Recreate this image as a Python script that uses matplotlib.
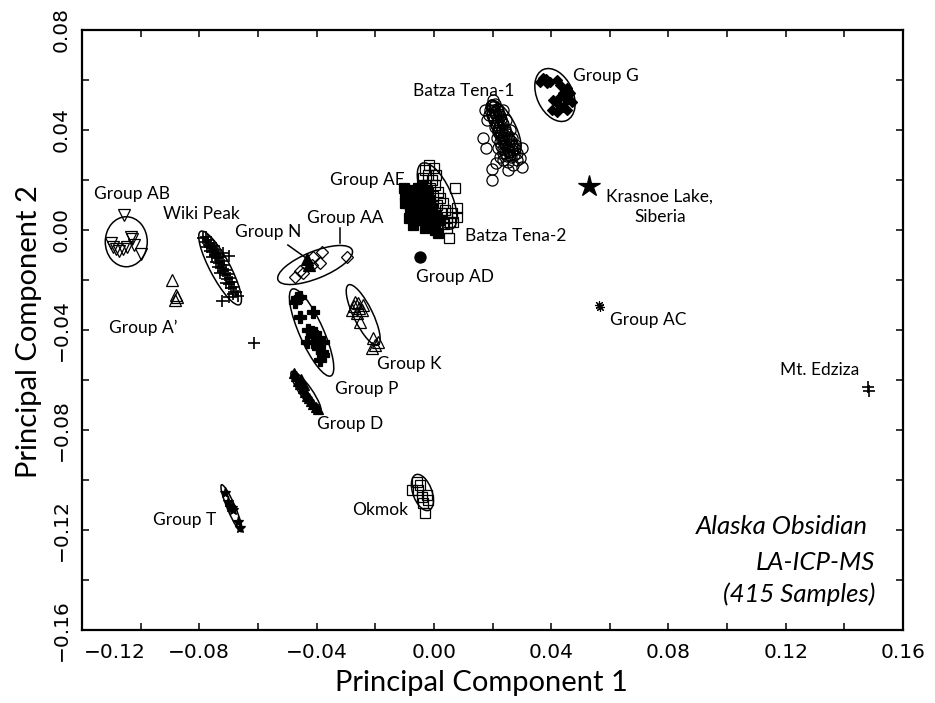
import numpy as np
import matplotlib
matplotlib.use('Agg')
import matplotlib.pyplot as plt
from matplotlib.patches import Ellipse
import matplotlib.transforms as mtransforms

# ---- data (PC1, PC2) ----
# Group AB (open down triangles)
ab_x = [-0.1056, -0.1034, -0.1030, -0.1023, -0.1102, -0.1094, -0.1084, -0.1074, -0.1060, -0.1048, -0.1000]
ab_y = [0.0060, -0.0027, -0.0036, -0.0060, -0.0051, -0.0067, -0.0076, -0.0083, -0.0076, -0.0068, -0.0096]

# Group A' (open up triangles)
ap_x = [-0.0894, -0.0879, -0.0883, -0.0877]
ap_y = [-0.0200, -0.0260, -0.0280, -0.0267]

# Wiki Peak (plus)
wiki_x = [-0.0787, -0.0777, -0.0781, -0.0770, -0.0767, -0.0760, -0.0774, -0.0757, -0.0750, -0.0764,
          -0.0753, -0.0743, -0.0746, -0.0736, -0.0757, -0.0740, -0.0729, -0.0743, -0.0733, -0.0723,
          -0.0736, -0.0726, -0.0716, -0.0719, -0.0709, -0.0729, -0.0712, -0.0702, -0.0706, -0.0695,
          -0.0709, -0.0699, -0.0689, -0.0692, -0.0682, -0.0675, -0.0685, -0.0668, -0.0723, -0.0699,
          -0.0719, -0.0699, -0.0613]
wiki_y = [-0.0032, -0.0028, -0.0048, -0.0040, -0.0060, -0.0052, -0.0068, -0.0072, -0.0064, -0.0084,
          -0.0088, -0.0080, -0.0100, -0.0096, -0.0108, -0.0112, -0.0108, -0.0128, -0.0132, -0.0124,
          -0.0148, -0.0152, -0.0140, -0.0164, -0.0160, -0.0172, -0.0180, -0.0176, -0.0196, -0.0192,
          -0.0212, -0.0216, -0.0208, -0.0232, -0.0228, -0.0248, -0.0256, -0.0264, -0.0284, -0.0268,
          -0.0092, -0.0104, -0.0452]

# Batza Tena-1 (open circles)
bt1_x = [0.0198, 0.0208, 0.0191, 0.0205, 0.0215, 0.0198, 0.0212, 0.0222, 0.0205, 0.0219,
         0.0229, 0.0212, 0.0225, 0.0236, 0.0219, 0.0232, 0.0242, 0.0225, 0.0239, 0.0249,
         0.0232, 0.0246, 0.0256, 0.0242, 0.0256, 0.0266, 0.0253, 0.0266, 0.0277, 0.0260,
         0.0273, 0.0283, 0.0188, 0.0202, 0.0236, 0.0246, 0.0260, 0.0266, 0.0215, 0.0229,
         0.0242, 0.0167, 0.0178, 0.0174, 0.0181, 0.0198, 0.0198, 0.0225, 0.0236, 0.0253,
         0.0253, 0.0270, 0.0294, 0.0300, 0.0300, 0.0277, 0.0219, 0.0236, 0.0283, 0.0212,
         0.0201, 0.0210, 0.0203, 0.0214, 0.0222, 0.0210, 0.0228, 0.0218, 0.0236, 0.0224,
         0.0240, 0.0249, 0.0236, 0.0256, 0.0263, 0.0250, 0.0218, 0.0226, 0.0233, 0.0194,
         0.0244, 0.0252, 0.0262, 0.0270]
bt1_y = [0.0500, 0.0504, 0.0480, 0.0480, 0.0484, 0.0460, 0.0460, 0.0464, 0.0440, 0.0440,
         0.0444, 0.0420, 0.0420, 0.0424, 0.0400, 0.0400, 0.0404, 0.0380, 0.0380, 0.0384,
         0.0360, 0.0360, 0.0364, 0.0340, 0.0340, 0.0344, 0.0320, 0.0320, 0.0324, 0.0300,
         0.0300, 0.0308, 0.0460, 0.0520, 0.0480, 0.0440, 0.0400, 0.0368, 0.0368, 0.0336,
         0.0308, 0.0368, 0.0328, 0.0480, 0.0440, 0.0244, 0.0200, 0.0292, 0.0308, 0.0272,
         0.0240, 0.0260, 0.0288, 0.0252, 0.0328, 0.0340, 0.0328, 0.0280, 0.0280, 0.0268,
         0.0490, 0.0470, 0.0450, 0.0430, 0.0410, 0.0410, 0.0390, 0.0390, 0.0370, 0.0350,
         0.0350, 0.0330, 0.0325, 0.0310, 0.0290, 0.0295, 0.0475, 0.0455, 0.0432, 0.0495,
         0.0395, 0.0372, 0.0355, 0.0335]

# Group G (filled diamonds)
g_x = [0.0372, 0.0386, 0.0362, 0.0420, 0.0430, 0.0454, 0.0440, 0.0464, 0.0430, 0.0454,
       0.0471, 0.0420, 0.0440, 0.0403, 0.0420, 0.0454, 0.0406, 0.0382, 0.0396]
g_y = [0.0608, 0.0588, 0.0592, 0.0600, 0.0580, 0.0568, 0.0548, 0.0548, 0.0532, 0.0520,
       0.0512, 0.0508, 0.0492, 0.0480, 0.0472, 0.0480, 0.0520, 0.0604, 0.0592]

# Group AE (filled squares)
ae_x = [-0.0099, -0.0088, -0.0075, -0.0081, -0.0064, -0.0054, -0.0047, -0.0041, -0.0030, -0.0064,
        -0.0047, -0.0020, -0.0013, -0.0030, 0.0004, 0.0014, -0.0071, -0.0054, -0.0041, -0.0023,
        -0.0013, -0.0006, 0.0007, 0.0021, -0.0102, -0.0085, -0.0003, -0.0027, -0.0099, -0.0078]
ae_y = [0.0140, 0.0108, 0.0160, 0.0080, 0.0128, 0.0100, 0.0140, 0.0072, 0.0120, 0.0060,
        0.0040, 0.0060, 0.0032, 0.0008, 0.0000, -0.0012, 0.0020, 0.0168, 0.0180, 0.0160,
        0.0120, 0.0088, 0.0060, 0.0040, 0.0168, 0.0048, 0.0016, 0.0092, 0.0108, 0.0136]

# Batza Tena-2 (open squares)
bt2_x = [-0.0030, -0.0020, -0.0006, -0.0027, -0.0013, 0.0004, 0.0014, -0.0003, 0.0021, 0.0031,
         0.0011, 0.0038, 0.0024, 0.0045, 0.0055, 0.0034, 0.0072, 0.0079, 0.0079, 0.0065,
         0.0051, 0.0045, 0.0062, -0.0037, 0.0007, -0.0017, 0.0000]
bt2_y = [0.0240, 0.0220, 0.0200, 0.0180, 0.0168, 0.0180, 0.0152, 0.0136, 0.0128, 0.0108,
         0.0100, 0.0080, 0.0068, 0.0052, 0.0032, 0.0024, 0.0168, 0.0088, 0.0052, 0.0032,
         -0.0032, 0.0008, 0.0068, 0.0208, 0.0220, 0.0260, 0.0248]

# Group AD (filled circle)
ad_x = [-0.0047]
ad_y = [-0.0107]

# Group AA (open diamonds) and Group N (filled triangles)
aa_x = [-0.0383, -0.0411, -0.0388, -0.0417, -0.0445, -0.0474, -0.0297, -0.0457]
aa_y = [-0.0087, -0.0107, -0.0133, -0.0140, -0.0173, -0.0187, -0.0107, -0.0164]
n_x = [-0.0433, -0.0426]
n_y = [-0.0116, -0.0140]

# Group P (bold plus)
p_x = [-0.0468, -0.0457, -0.0474, -0.0411, -0.0457, -0.0428, -0.0417, -0.0434, -0.0411, -0.0388,
       -0.0405, -0.0377, -0.0383, -0.0388, -0.0377, -0.0394]
p_y = [-0.0273, -0.0267, -0.0287, -0.0327, -0.0347, -0.0400, -0.0407, -0.0447, -0.0447, -0.0447,
       -0.0413, -0.0447, -0.0487, -0.0520, -0.0500, -0.0473]

# Group K (open up triangles)
k_x = [-0.0269, -0.0258, -0.0280, -0.0263, -0.0246, -0.0252, -0.0241, -0.0207, -0.0190, -0.0212,
       -0.0201, -0.0272, -0.0255]
k_y = [-0.0287, -0.0293, -0.0320, -0.0333, -0.0320, -0.0367, -0.0300, -0.0433, -0.0447, -0.0473,
       -0.0460, -0.0304, -0.0312]

# Group D (filled up triangles)
d_x = [-0.0470, -0.0463, -0.0457, -0.0446, -0.0440, -0.0433, -0.0426, -0.0419, -0.0412, -0.0402,
       -0.0395, -0.0453, -0.0443, -0.0477]
d_y = [-0.0584, -0.0604, -0.0616, -0.0632, -0.0648, -0.0664, -0.0672, -0.0684, -0.0696, -0.0708,
       -0.0716, -0.0596, -0.0620, -0.0572]

# Group T (stars)
t_x = [-0.0712, -0.0701, -0.0695, -0.0690, -0.0684, -0.0667, -0.0661]
t_y = [-0.1053, -0.1087, -0.1107, -0.1113, -0.1120, -0.1167, -0.1193]

# Okmok (open squares)
ok_x = [-0.0076, -0.0047, -0.0025, -0.0036, -0.0030, -0.0053, -0.0042, -0.0019, -0.0059]
ok_y = [-0.1040, -0.1020, -0.1060, -0.1093, -0.1133, -0.1040, -0.1067, -0.1080, -0.1007]

# single sources
kr_x = [0.0530]
kr_y = [0.0176]
ac_x = [0.0563, 0.0566]
ac_y = [-0.0302, -0.0310]
ed_x = [0.1481, 0.1483]
ed_y = [-0.0628, -0.0645]

# group ellipses: centre (data), axes in inches, angle on screen
ell_x = [-0.1049, -0.0729, -0.0405, 0.0239, 0.0413, 0.0011, -0.0417, -0.0241, -0.0436, -0.0690, -0.0039]
ell_y = [-0.0047, -0.0152, -0.0140, 0.0412, 0.0540, 0.0136, -0.0410, -0.0340, -0.0648, -0.1113, -0.1050]
ell_w = [0.42, 0.83, 0.80, 0.60, 0.56, 0.72, 0.95, 0.67, 0.50, 0.51, 0.38]
ell_h = [0.50, 0.20, 0.27, 0.22, 0.36, 0.28, 0.24, 0.19, 0.12, 0.08, 0.19]
ell_a = [0, -62, 22, -62, -65, -65, -66, -64, -55, -67, -70]

# group names
lab_txt = ['Group AB', 'Wiki Peak', 'Group A\u2019', 'Group N', 'Group AA', 'Group AE',
           'Batza Tena-2', 'Group AD', 'Batza Tena-1', 'Group G', 'Krasnoe Lake,\nSiberia',
           'Group AC', 'Mt. Edziza', 'Group K', 'Group P', 'Group D', 'Group T', 'Okmok']
lab_x = [-0.1030, -0.0794, -0.0992, -0.0566, -0.0303, -0.0228, 0.0280, 0.0072, 0.0103, 0.0587,
         0.0771, 0.0730, 0.1317, -0.0085, -0.0228, -0.0286, -0.0849, -0.0184]
lab_y = [0.0144, 0.0064, -0.0392, -0.0008, 0.0048, 0.0200, -0.0026, -0.0188, 0.0556, 0.0616,
         0.0092, -0.0360, -0.0560, -0.0536, -0.0636, -0.0776, -0.1160, -0.1120]

xticks = [-0.12, -0.08, -0.04, 0.00, 0.04, 0.08, 0.12, 0.16]
xminor = [-0.10, -0.06, -0.02, 0.02, 0.06, 0.10, 0.14]
yticks = [-0.16, -0.12, -0.08, -0.04, 0.00, 0.04, 0.08]
yminor = [-0.14, -0.10, -0.06, -0.02, 0.02, 0.06]

FONT = ['Lato', 'DejaVu Sans']

fig = plt.figure(figsize=(9.35, 7.03), dpi=100)
ax = fig.add_axes([82/935, 1 - 630/703, 821/935, 600/703])

def pts(x, y, marker, ms, filled, mew=0.9):
    ax.plot(x, y, ls='none', marker=marker, ms=ms, mew=mew, mec='black',
            mfc='black' if filled else 'none', zorder=3)

pts(ab_x, ab_y, 'v', 8, False)
pts(ap_x, ap_y, '^', 8, False)
pts(wiki_x, wiki_y, '+', 8, False, mew=1.2)
pts(bt1_x, bt1_y, 'o', 8, False)
pts(g_x, g_y, 'D', 5.5, True)
pts(ae_x, ae_y, 's', 7, True)
pts(bt2_x, bt2_y, 's', 7, False)
pts(ad_x, ad_y, 'o', 8, True)
pts(aa_x, aa_y, 'D', 6, False)
pts(n_x, n_y, '^', 8, True)
pts(p_x, p_y, 'P', 8, True)
pts(k_x, k_y, '^', 8, False)
pts(d_x, d_y, '^', 7, True)
pts(t_x, t_y, '*', 8, True)
pts(ok_x, ok_y, 's', 7, False)
pts(kr_x, kr_y, '*', 16, True)
pts(ac_x, ac_y, (8, 2, 0), 6.5, False, mew=0.8)
pts(ed_x, ed_y, '+', 8, False, mew=1.2)

for cx, cy, w, h, a in zip(ell_x, ell_y, ell_w, ell_h, ell_a):
    tr = fig.dpi_scale_trans + mtransforms.ScaledTranslation(cx, cy, ax.transData)
    ax.add_patch(Ellipse((0, 0), w, h, angle=a, fill=False, ec='black', lw=1.1,
                         transform=tr, zorder=4))

# leader lines for Group N and Group AA
ax.plot([-0.0498, -0.0436], [-0.0060, -0.0112], color='black', lw=1.1, zorder=4)
ax.plot([-0.0320, -0.0320], [0.0008, -0.0052], color='black', lw=1.1, zorder=4)

for s, x, y in zip(lab_txt, lab_x, lab_y):
    ax.text(x, y, s, ha='center', va='center', fontsize=12.5, family=FONT,
            linespacing=1.35, multialignment='center')

ax.text(0.9574, 0.1717, 'Alaska Obsidian', transform=ax.transAxes, ha='right', va='center',
        fontsize=18.5, style='italic', family=FONT)
ax.text(0.9659, 0.1133, 'LA-ICP-MS', transform=ax.transAxes, ha='right', va='center',
        fontsize=18.5, style='italic', family=FONT)
ax.text(0.9659, 0.0600, '(415 Samples)', transform=ax.transAxes, ha='right', va='center',
        fontsize=18.5, style='italic', family=FONT)

ax.set_xlim(-0.12, 0.16)
ax.set_ylim(-0.16, 0.08)
ax.set_xticks(xticks)
ax.set_xticks(xminor, minor=True)
ax.set_yticks(yticks)
ax.set_yticks(yminor, minor=True)
ax.set_xticklabels([f'{v:.2f}'.replace('-', '\u2212') for v in xticks])
ax.set_yticklabels([f'{v:.2f}'.replace('-', '\u2212') for v in yticks])
ax.tick_params(which='both', direction='in', length=5, width=1.1, top=True, right=True)
ax.tick_params(axis='x', labelsize=14.5, pad=9)
ax.tick_params(axis='y', labelsize=14.5, pad=8, labelrotation=90)
for lbl in ax.get_yticklabels():
    lbl.set_va('center')
for sp in ax.spines.values():
    sp.set_linewidth(1.6)

# first x label was nudged right in the original to clear the y labels
first = ax.get_xticklabels()[0]
first.set_transform(first.get_transform()
                    + mtransforms.ScaledTranslation(0.33, 0, fig.dpi_scale_trans))

ax.set_xlabel('Principal Component 1', fontsize=21, family=FONT, va='center')
ax.xaxis.set_label_coords(0.486, -0.088)
ax.set_ylabel('Principal Component 2', fontsize=21, family=FONT, va='center')
ax.yaxis.set_label_coords(-0.064, 0.497)

fig.savefig('out.png', dpi=100)
